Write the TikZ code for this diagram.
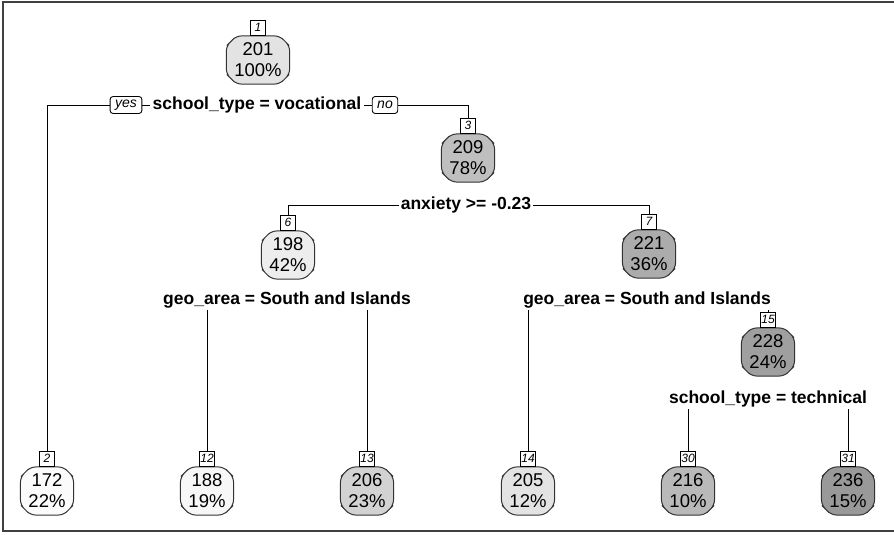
\documentclass[tikz,border=0pt]{standalone}
\usepackage{fontspec}
\setmainfont{Liberation Sans}
\usetikzlibrary{shapes.misc}
\tikzset{
  tnode/.style={chamfered rectangle,chamfered rectangle xsep=4pt,chamfered rectangle ysep=6pt,rounded corners=5pt,draw=black!80,line width=1pt,align=center,font=\fontsize{18.5}{21}\selectfont,inner xsep=4pt,inner ysep=1pt},
  tnum/.style={draw,line width=0.9pt,fill=white,font=\fontsize{12}{13}\selectfont\itshape,inner sep=0pt,minimum width=15pt,minimum height=15pt,anchor=south},
  split/.style={fill=white,font=\fontsize{17.5}{20}\selectfont\bfseries,inner sep=2pt},
  yesno/.style={draw,line width=0.9pt,fill=white,rounded corners=3pt,font=\fontsize{14}{15}\selectfont\itshape,inner xsep=5pt,inner ysep=1pt,minimum height=17pt},
  branch/.style={line width=1pt}
}
\begin{document}
\begin{tikzpicture}[x=1pt,y=-1pt]
\useasboundingbox (0,0) rectangle (894,535);
\draw[black!75,line width=2pt] (896,2) -- (3,2) -- (3,531) -- (896,531);
% inner nodes
\foreach \n/\x/\y/\v/\p/\c in {1/258/60/201/100/gray!22,3/468/158/209/78/gray!50,6/288/255/198/42/gray!14,7/649/254/221/36/gray!65,15/768/352/228/24/gray!75}
  {\node[tnode,fill=\c] (n\n) at (\x,\y) {\v\\\p\%}; \node[tnum] (k\n) at (n\n.north) {\n};}
% leaves
\foreach \n/\x/\v/\p/\c in {2/47/172/22/gray!3,12/207/188/19/gray!6,13/367/206/23/gray!35,14/528/205/12/gray!22,30/688/216/10/gray!55,31/848/236/15/gray!80}
  {\node[tnode,fill=\c] (n\n) at (\x,491) {\v\\\p\%}; \node[tnum] (k\n) at (n\n.north) {\n};}
% splits
\node[split] (s1) at (257,105) {school\_type = vocational};
\node[yesno] (yes) at (126,105) {yes};
\node[yesno] (no) at (385,105) {no};
\node[split] (s3) at (466,205) {anxiety >= -0.23};
\node[split] (s6) at (287,300) {geo\_area = South and Islands};
\node[split] (s7) at (647,300) {geo\_area = South and Islands};
\node[split] (s15) at (768,399) {school\_type = technical};
% branches
\draw[branch] (k2.north) |- (yes.west);
\draw[branch] (yes.east) -- (s1.west);
\draw[branch] (s1.east) -- (no.west);
\draw[branch] (no.east) -| (k3.north);
\draw[branch] (s3.west) -| (k6.north);
\draw[branch] (s3.east) -| (k7.north);
\draw[branch] (s6.south -| k12.north) -- (k12.north);
\draw[branch] (s6.south -| k13.north) -- (k13.north);
\draw[branch] (s7.south -| k14.north) -- (k14.north);
\draw[branch] (s7.south -| k15.north) -- (k15.north);
\draw[branch] (s15.south -| k30.north) -- (k30.north);
\draw[branch] (s15.south -| k31.north) -- (k31.north);
\end{tikzpicture}
\end{document}
